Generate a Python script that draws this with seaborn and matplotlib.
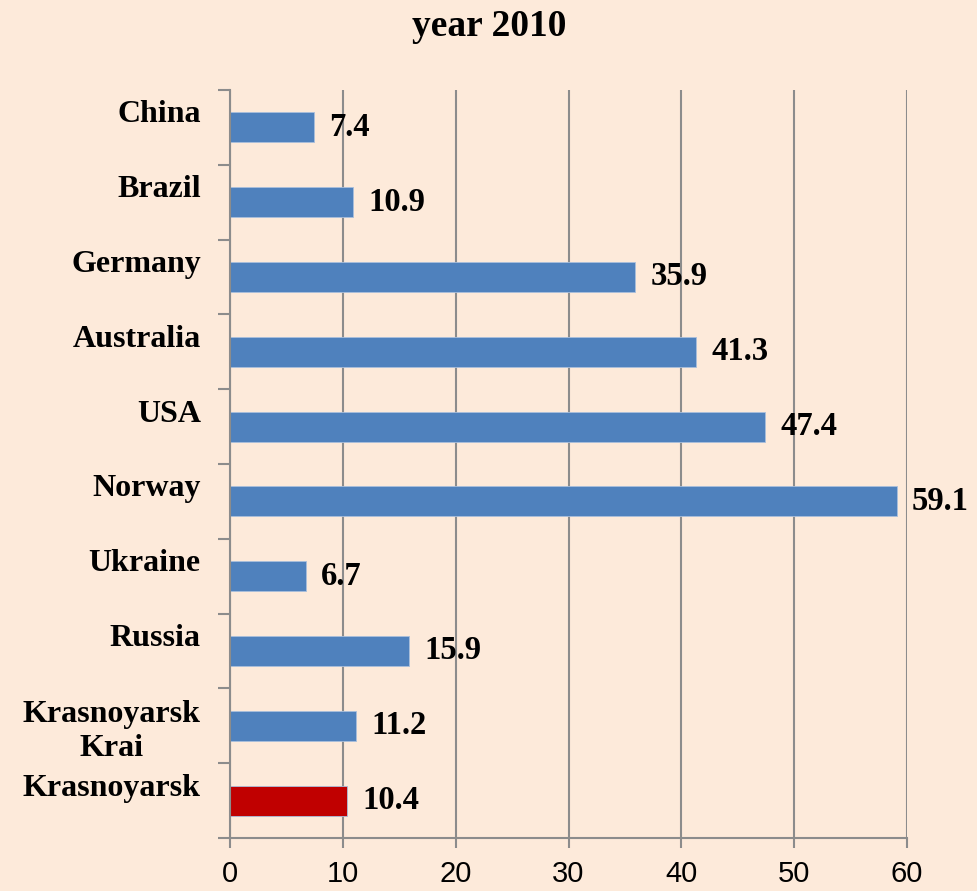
import matplotlib

matplotlib.use("Agg")

import matplotlib.pyplot as plt
import matplotlib.transforms as mtransforms
import numpy as np
import pandas as pd
import seaborn as sns
from matplotlib.ticker import FixedLocator

CATEGORIES = [
    "China",
    "Brazil",
    "Germany",
    "Australia",
    "USA",
    "Norway",
    "Ukraine",
    "Russia",
    "Krasnoyarsk\nKrai",
    "Krasnoyarsk",
]
VALUES = [7.4, 10.9, 35.9, 41.3, 47.4, 59.1, 6.7, 15.9, 11.2, 10.4]
BAR_COLORS = ["#4F81BD"] * 9 + ["#C00000"]
X_TICKS = [0, 10, 20, 30, 40, 50, 60]
TITLE = "year 2010"

BG = "#FDEADA"
GRID = "#8C8C8C"

sns.set_theme(style="white")
plt.rcParams["font.family"] = ["Liberation Serif", "DejaVu Serif"]
plt.rcParams["text.color"] = "black"
plt.rcParams["xtick.color"] = "black"
plt.rcParams["ytick.color"] = "black"

df = pd.DataFrame({"region": CATEGORIES, "value": VALUES})

fig = plt.figure(figsize=(9.78, 8.91), dpi=100, facecolor=BG)
ax = fig.add_axes([0.2352, 0.0595, 0.6922, 0.8395])
ax.set_facecolor(BG)

sns.barplot(
    data=df,
    x="value",
    y="region",
    hue="region",
    palette=BAR_COLORS,
    order=CATEGORIES,
    hue_order=CATEGORIES,
    orient="h",
    width=0.4,
    saturation=1,
    legend=False,
    edgecolor="#A9BFDC",
    linewidth=0.6,
    ax=ax,
)

ax.set_xlim(0, 60)
ax.set_xticks(X_TICKS)
ax.set_xticklabels([str(t) for t in X_TICKS], family="Liberation Sans", fontsize=21)
ax.set_xlabel("")
ax.set_ylabel("")

ax.grid(axis="x", color=GRID, linewidth=1.5)
ax.set_axisbelow(True)
for side in ["top", "right"]:
    ax.spines[side].set_visible(False)
for side in ["left", "bottom"]:
    ax.spines[side].set_color(GRID)
    ax.spines[side].set_linewidth(1.5)

ax.yaxis.set_minor_locator(FixedLocator(np.arange(-0.5, len(CATEGORIES), 1)))
ax.tick_params(axis="y", which="major", length=0, pad=21, labelsize=23, labelcolor="black")
ax.tick_params(axis="y", which="minor", length=8.5, width=1.5, color=GRID, direction="out", left=True)
ax.tick_params(axis="x", which="major", length=7, width=1.5, color=GRID, direction="out",
               bottom=True, pad=9, labelcolor="black")

shift = mtransforms.ScaledTranslation(0, 0.16, fig.dpi_scale_trans)
for lbl in ax.get_yticklabels():
    lbl.set_fontweight("bold")
    lbl.set_multialignment("center")
    if "\n" not in lbl.get_text():
        lbl.set_transform(lbl.get_transform() + shift)

down = mtransforms.ScaledTranslation(0, -0.07, fig.dpi_scale_trans)
for container in ax.containers:
    texts = ax.bar_label(
        container,
        fmt="%.1f",
        padding=11,
        fontsize=23.5,
        fontweight="bold",
        color="black",
    )
    for t in texts:
        t.set_transform(t.get_transform() + down)

fig.suptitle(TITLE, y=0.99, va="top", fontsize=27, fontweight="bold", color="black")

fig.savefig("out.png", dpi=100, facecolor=BG)
